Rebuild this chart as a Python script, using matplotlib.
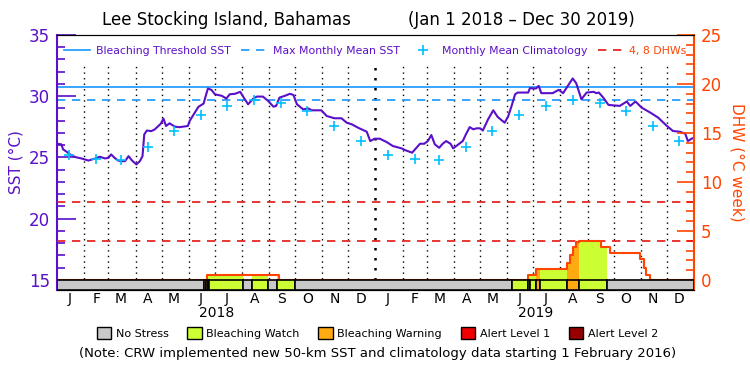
import numpy as np
import matplotlib
matplotlib.use("Agg")
import matplotlib.pyplot as plt
from matplotlib.lines import Line2D
from matplotlib.patches import Patch
from matplotlib.ticker import FixedLocator, NullFormatter

# daily SST (day 0 = Jan 1 2018)
sst_days = [0, 5, 7, 11, 15, 21, 28, 36, 44, 49, 55, 59, 62, 66, 70, 74, 78, 82, 86, 91, 95, 98,
            100, 103, 108, 112, 119, 122, 125, 129, 135, 140, 150, 152, 158, 162, 168, 171, 173, 177,
            181, 189, 194, 198, 204, 210, 214, 219, 225, 229, 236, 242, 248, 251, 255, 261, 267, 271,
            275, 282, 288, 292, 303, 309, 318, 326, 332, 338, 345, 355, 359, 364, 370, 378, 385, 395,
            400, 407, 412, 416, 421, 425, 429, 433, 438, 442, 446, 451, 454, 460, 465, 469, 473, 477,
            481, 485, 488, 494, 500, 505, 513, 517, 521, 525, 528, 540, 542, 549, 552, 555, 568, 575,
            580, 591, 595, 601, 607, 615, 618, 621, 626, 632, 645, 653, 657, 663, 670, 680, 689, 699,
            706, 714, 720, 723, 728]
sst_vals = [26.12, 26.07, 25.66, 25.47, 25.25, 25.03, 24.92, 24.75, 24.92, 25.06, 24.92, 24.97, 25.25,
            24.97, 24.75, 24.70, 24.70, 25.11, 24.75, 24.43, 24.70, 25.11, 26.88, 27.20, 27.15, 27.29,
            27.76, 28.17, 27.57, 27.79, 27.52, 27.47, 27.57, 27.98, 28.66, 29.13, 29.40, 30.16, 30.63,
            30.52, 30.16, 30.03, 29.81, 30.16, 30.20, 30.36, 29.89, 29.34, 29.81, 29.97, 29.97, 29.61,
            29.15, 29.20, 29.89, 30.03, 30.20, 30.10, 29.34, 28.93, 29.00, 28.85, 28.85, 28.39, 28.20,
            28.20, 27.84, 27.70, 27.43, 27.10, 26.34, 26.53, 26.53, 26.25, 25.93, 25.74, 25.57, 25.39,
            25.79, 26.12, 26.12, 26.34, 26.83, 26.07, 25.79, 26.12, 26.34, 26.12, 25.74, 26.07, 26.34,
            26.94, 27.48, 27.30, 27.38, 27.38, 27.20, 28.11, 28.85, 28.31, 27.84, 28.34, 29.21, 30.16,
            30.30, 30.30, 30.66, 30.63, 30.85, 30.25, 30.25, 30.52, 30.25, 31.45, 31.07, 29.75, 30.30,
            30.36, 30.25, 30.30, 29.89, 29.29, 29.21, 29.57, 29.21, 29.57, 29.07, 28.66, 28.25, 27.57,
            27.16, 27.10, 26.94, 26.34, 26.56]

# monthly mean climatology (Jan..Dec), same for both years
clim_vals = [25.17, 24.86, 24.82, 25.87, 27.18, 28.47, 29.21, 29.72, 29.48, 28.80, 27.57, 26.34]
mmm = 29.72
threshold = 30.72
dhw_levels = [4, 8]

# degree heating weeks, step values starting at each day
dhw_days = [0, 171.5, 254.6, 540, 549, 584.8, 588, 591.5, 594.5, 598.2, 624, 634.2, 667.8, 672.7, 675.5, 679.3]
dhw_vals = [0, 0.48, 0, 0.48, 1.09, 1.7, 2.55, 3.33, 3.84, 3.95, 3.33, 2.79, 2.11, 1.26, 0.51, 0]

# bleaching alert status segments (0 no stress, 1 watch, 2 warning)
status_start = [0, 168, 171, 172.5, 174.5, 213.5, 223.8, 241.5, 252.5, 272.7, 521.6, 540.1, 542.1, 549, 553.9, 584.8, 598.2, 630.6]
status_end = [168, 171, 172.5, 174.5, 213.5, 223.8, 241.5, 252.5, 272.7, 521.6, 540.1, 542.1, 549, 553.9, 584.8, 598.2, 630.6, 730]
status_level = [0, 0, 2, 1, 1, 0, 1, 0, 1, 0, 1, 1, 1, 2, 1, 2, 1, 0]

status_names = ["No Stress", "Bleaching Watch", "Bleaching Warning", "Alert Level 1", "Alert Level 2"]
status_colors = ["#C8C8C8", "#CCFF33", "#FFAA11", "#F00000", "#960000"]
month_letters = ["J", "F", "M", "A", "M", "J", "J", "A", "S", "O", "N", "D"]

purple = "#5A0FC8"
oranger = "#FF4500"
blue = "#1496FF"
cyan = "#00BFFF"

months = np.arange("2018-01", "2020-01", dtype="datetime64[M]")
month_start = (months.astype("datetime64[D]") - np.datetime64("2018-01-01")).astype(int)
month_mid = month_start + 14

sst_lo, sst_hi = 14.18, 35
dhw_lo, dhw_hi = (sst_lo - 15) * 1.25, 25

fig = plt.figure(figsize=(7.5, 3.75), dpi=100)
ax = fig.add_axes([0.076, 0.2267, 0.8493, 0.68])
ax2 = ax.twinx()

# month grid, kept below the legend row
for d in month_start[1:]:
    lw = 1.8 if d == 365 else 1
    ax.axvline(d, ymax=0.89, color="black", ls=(0, (1, 3)), lw=lw, zorder=0)

ax.axhline(threshold, color=blue, lw=1.2)
ax.axhline(mmm, color=blue, lw=1.2, ls=(0, (5, 4)))
ax.plot(sst_days, sst_vals, color=purple, lw=1.5)
ax.plot(month_mid, clim_vals * 2, ls="none", marker="+", ms=7, mew=1.2, color=cyan)
ax.set_xlim(0, 730)
ax.set_ylim(sst_lo, sst_hi)

# DHW part
for lv in dhw_levels:
    ax2.axhline(lv, color="#E61414", lw=1.2, ls=(0, (5, 4)))
dd = np.array(dhw_days)
dv = np.array(dhw_vals)
for s, e, lev in zip(status_start, status_end, status_level):
    if lev == 0:
        continue
    xs = np.concatenate([[s], dd[(dd > s) & (dd < e)], [e]])
    ys = dv[np.searchsorted(dd, xs, side="right") - 1]
    ax2.fill_between(xs, 0, ys, step="post", color=status_colors[lev], lw=0, zorder=2)
ax2.step(dhw_days + [730], dhw_vals + [0], where="post", color=oranger, lw=1.5, zorder=3)
ax2.bar(status_start, dhw_lo, width=np.array(status_end) - np.array(status_start), bottom=0,
        align="edge", color=[status_colors[l] for l in status_level], edgecolor="black", lw=1.2, zorder=4)
ax2.set_ylim(dhw_lo, dhw_hi)

# axes styling
ax.spines["left"].set_color(purple)
ax.spines["left"].set_linewidth(1.5)
ax2.spines["left"].set_visible(False)
ax2.spines["right"].set_color(oranger)
ax2.spines["right"].set_linewidth(1.5)
ax.spines["right"].set_visible(False)
ax.yaxis.set_major_locator(FixedLocator([15, 20, 25, 30, 35]))
ax.yaxis.set_minor_locator(FixedLocator(np.arange(15, 35)))
ax.tick_params(axis="y", which="major", direction="in", length=14, width=1.2, color=purple,
               labelcolor=purple, labelsize=12, pad=5)
ax.tick_params(axis="y", which="minor", direction="in", length=6, width=1.2, color=purple)
ax2.yaxis.set_major_locator(FixedLocator([0, 5, 10, 15, 20, 25]))
ax2.yaxis.set_minor_locator(FixedLocator(np.arange(0, 25)))
ax2.tick_params(axis="y", which="major", direction="in", length=12, width=1.2, color=oranger,
                labelcolor=oranger, labelsize=12, pad=5)
ax2.tick_params(axis="y", which="minor", direction="in", length=6, width=1.2, color=oranger)

ax.xaxis.set_major_locator(FixedLocator(month_start))
ax.xaxis.set_major_formatter(NullFormatter())
ax.xaxis.set_minor_locator(FixedLocator(month_mid))
ax.set_xticklabels(month_letters * 2, minor=True)
ax.tick_params(axis="x", which="both", length=0, labelsize=10, pad=1.5)
for yr, d in [("2018", 183), ("2019", 548)]:
    ax.text(d, -0.092, yr, transform=ax.get_xaxis_transform(), ha="center", va="center", fontsize=10)

ax.set_ylabel("SST (°C)", color=purple, fontsize=11, labelpad=4)
ax2.set_ylabel("DHW (°C week)", color=oranger, fontsize=11, rotation=270, labelpad=16)

fig.text(0.302, 0.947, "Lee Stocking Island, Bahamas", ha="center", va="center", fontsize=12)
fig.text(0.695, 0.947, "(Jan 1 2018 – Dec 30 2019)", ha="center", va="center", fontsize=12)

handles = [Line2D([], [], color=blue, lw=1.2),
           Line2D([], [], color=blue, lw=1.2, ls=(0, (5, 4))),
           Line2D([], [], color=cyan, ls="none", marker="+", ms=7, mew=1.2),
           Line2D([], [], color="#E61414", lw=1.2, ls=(0, (5, 4)))]
labels = ["Bleaching Threshold SST", "Max Monthly Mean SST", "Monthly Mean Climatology", "4, 8 DHWs"]
leg = ax2.legend(handles, labels, loc="upper center", bbox_to_anchor=(0.5, 1.0), ncol=4, frameon=False,
                 fontsize=7.8, handlelength=2.4, columnspacing=1.0, handletextpad=0.5, borderaxespad=0.6)
for i, t in enumerate(leg.get_texts()):
    t.set_color(oranger if i == 3 else purple)

sh = [Patch(facecolor=c, edgecolor="black", lw=1) for c in status_colors]
fig.legend(sh, status_names, loc="center", bbox_to_anchor=(0.503, 0.112), ncol=5, frameon=False,
           fontsize=8, handlelength=1.3, handleheight=1.2, columnspacing=1.7, handletextpad=0.4)
fig.text(0.503, 0.056, "(Note: CRW implemented new 50-km SST and climatology data starting 1 February 2016)",
         ha="center", va="center", fontsize=9.5)

fig.savefig("out.png", dpi=100)
